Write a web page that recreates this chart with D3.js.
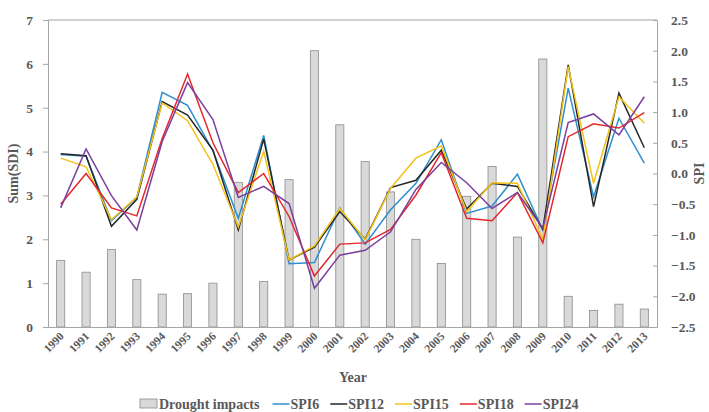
<!DOCTYPE html>
<html>
<head>
<meta charset="utf-8">
<script src="https://cdn.jsdelivr.net/npm/d3@7/dist/d3.min.js"></script>
<style>
  body { margin: 0; background: #fff; }
  text { font-family: "Liberation Serif", "Times New Roman", serif; font-weight: bold; }
</style>
</head>
<body>
<svg id="chart" width="709" height="412"></svg>
<script>
// years on the x axis
const years = d3.range(1990, 2014).map(String);

// bars: drought impacts, left axis
const impacts = [1.52, 1.25, 1.77, 1.08, 0.75, 0.76, 1.0, 3.3, 1.04, 3.36, 6.3, 4.61,
  3.77, 3.08, 2.0, 1.45, 2.98, 3.66, 2.05, 6.11, 0.7, 0.38, 0.52, 0.41];

// SPI series, right axis
const spi6 = [0.31, 0.28, -0.77, -0.39, 1.32, 1.11, 0.37, -0.73, 0.62, -1.47, -1.45, -0.56,
  -1.15, -0.59, -0.16, 0.55, -0.65, -0.53, -0.01, -0.92, 1.39, -0.38, 0.90, 0.17];
const spi12 = [0.32, 0.29, -0.86, -0.42, 1.17, 0.95, 0.38, -0.92, 0.56, -1.41, -1.20, -0.62,
  -1.07, -0.23, -0.11, 0.38, -0.58, -0.16, -0.21, -0.91, 1.77, -0.54, 1.31, 0.42];
const spi15 = [0.25, 0.11, -0.75, -0.38, 1.15, 0.86, 0.15, -0.87, 0.36, -1.41, -1.18, -0.57,
  -1.08, -0.24, 0.25, 0.45, -0.62, -0.15, -0.16, -1.07, 1.74, -0.16, 1.25, 0.82];
const spi18 = [-0.50, 0.0, -0.56, -0.69, 0.57, 1.62, 0.50, -0.31, 0.0, -0.70, -1.67, -1.15,
  -1.13, -0.91, -0.35, 0.34, -0.73, -0.77, -0.31, -1.13, 0.60, 0.81, 0.74, 0.99];
const spi24 = [-0.56, 0.40, -0.36, -0.92, 0.52, 1.48, 0.88, -0.39, -0.21, -0.49, -1.87, -1.33,
  -1.25, -0.95, -0.26, 0.18, -0.15, -0.57, -0.31, -0.89, 0.83, 0.97, 0.63, 1.25];

const leftTicks = [0, 1, 2, 3, 4, 5, 6, 7];
const rightTicks = [2.5, 2.0, 1.5, 1.0, 0.5, 0.0, -0.5, -1.0, -1.5, -2.0, -2.5];

const series = [
  { name: "SPI6", values: spi6, color: "#2e8fce" },
  { name: "SPI12", values: spi12, color: "#262626" },
  { name: "SPI15", values: spi15, color: "#f2c21b" },
  { name: "SPI18", values: spi18, color: "#e5262b" },
  { name: "SPI24", values: spi24, color: "#7b3f9e" }
];

const svg = d3.select("#chart");
const plotL = 48, plotR = 657, plotT = 20, plotB = 327;
const axisColor = "#a6a6a6", labelColor = "#595959";

const x = d3.scaleBand().domain(years).range([plotL, plotR]).paddingInner(0.68).paddingOuter(0.34);
const yL = d3.scaleLinear().domain([0, 7]).range([plotB, plotT]);
const yR = d3.scaleLinear().domain([-2.5, 2.5]).range([plotB, plotT]);
const cx = d => x(d) + x.bandwidth() / 2;

// bars
svg.append("g").selectAll("rect").data(impacts).join("rect")
  .attr("x", (d, i) => x(years[i]))
  .attr("y", d => yL(d))
  .attr("width", x.bandwidth())
  .attr("height", d => yL(0) - yL(d))
  .attr("fill", "#d9d9d9")
  .attr("stroke", "#8c8c8c")
  .attr("stroke-width", 0.8);

// frame
svg.append("line").attr("x1", plotL).attr("x2", plotR).attr("y1", plotT).attr("y2", plotT)
  .attr("stroke", axisColor);

// left axis
const gL = svg.append("g").attr("transform", `translate(${plotL},0)`)
  .call(d3.axisLeft(yL).tickValues(leftTicks).tickSize(5).tickPadding(10).tickFormat(d3.format("d")));
// right axis
const gR = svg.append("g").attr("transform", `translate(${plotR},0)`)
  .call(d3.axisRight(yR).tickValues(rightTicks).tickSize(-4).tickPadding(14).tickFormat(d3.format(".1f")));
// bottom axis
const gB = svg.append("g").attr("transform", `translate(0,${plotB})`)
  .call(d3.axisBottom(x).tickSize(0).tickFormat(""));

[gL, gR, gB].forEach(g => {
  g.select(".domain").attr("stroke", axisColor);
  g.selectAll(".tick line").attr("stroke", axisColor);
  g.selectAll(".tick text").attr("fill", labelColor).style("font-size", "13.5px")
    .style("font-family", "'Liberation Serif', serif").style("font-weight", "bold");
});

// year labels
svg.append("g").selectAll("text").data(years).join("text")
  .attr("transform", d => `translate(${cx(d) + 4},${plotB + 10}) rotate(-45)`)
  .attr("text-anchor", "end")
  .attr("fill", labelColor)
  .style("font-size", "11.5px")
  .text(d => d);

// lines
const line = d3.line().x((d, i) => cx(years[i])).y(d => yR(d));
svg.append("g").selectAll("path").data(series).join("path")
  .attr("d", s => line(s.values))
  .attr("fill", "none")
  .attr("stroke", s => s.color)
  .attr("stroke-width", 1.5);

// axis titles
svg.append("text").attr("transform", `translate(18,${(plotT + plotB) / 2}) rotate(-90)`)
  .attr("text-anchor", "middle").attr("fill", labelColor).style("font-size", "14px").text("Sum(SDI)");
svg.append("text").attr("transform", `translate(704,${(plotT + plotB) / 2}) rotate(-90)`)
  .attr("text-anchor", "middle").attr("fill", labelColor).style("font-size", "14px").text("SPI");
svg.append("text").attr("x", 353).attr("y", 382)
  .attr("text-anchor", "middle").attr("fill", labelColor).style("font-size", "14px").text("Year");

// legend
const legend = svg.append("g").attr("transform", "translate(0,404)");
let lx = 140;
legend.append("rect").attr("x", lx).attr("y", -5).attr("width", 17).attr("height", 9)
  .attr("fill", "#d9d9d9").attr("stroke", "#8c8c8c").attr("stroke-width", 0.8);
let t = legend.append("text").attr("x", lx + 19).attr("y", 5).attr("fill", labelColor)
  .style("font-size", "14px").text("Drought impacts");
lx += 19 + t.node().getComputedTextLength() + 13;
series.forEach(s => {
  legend.append("line").attr("x1", lx).attr("x2", lx + 17).attr("y1", 0).attr("y2", 0)
    .attr("stroke", s.color).attr("stroke-width", 1.5);
  const tt = legend.append("text").attr("x", lx + 18).attr("y", 5).attr("fill", labelColor)
    .style("font-size", "14px").text(s.name);
  lx += 18 + tt.node().getComputedTextLength() + 11;
});
</script>
</body>
</html>
